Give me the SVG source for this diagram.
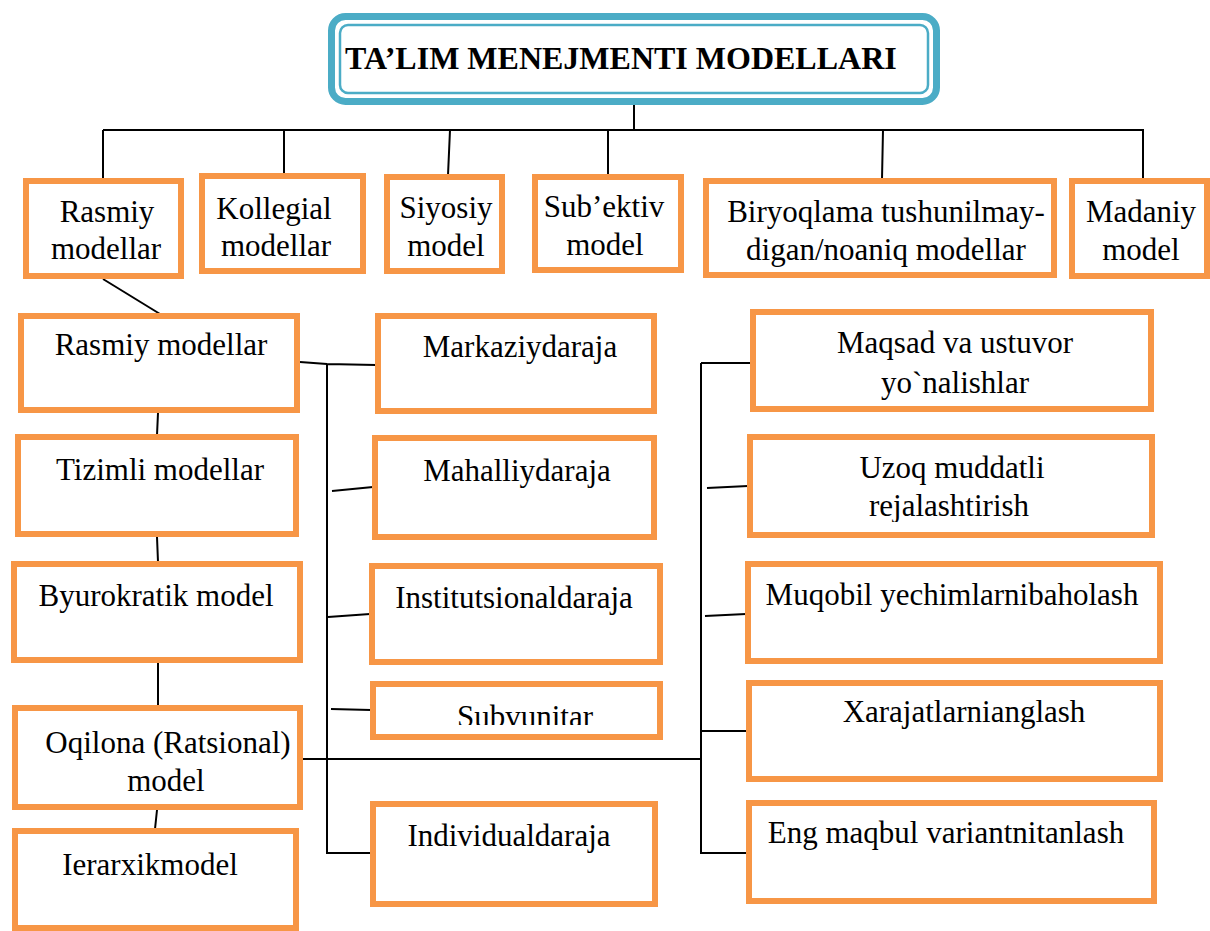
<svg xmlns="http://www.w3.org/2000/svg" width="1210" height="931" viewBox="0 0 1210 931">
<style>
.box{fill:#fff;stroke:#F79646;stroke-width:6}
.t{font-family:"Liberation Serif","Times New Roman",serif;font-size:31px;fill:#000;text-anchor:middle}
.c{fill:none;stroke:#000;stroke-width:2}
</style>
<defs>
<clipPath id="clipSub"><rect x="373" y="684" width="287" height="41"/></clipPath>
<clipPath id="clipR2"><rect x="750" y="437" width="402" height="85"/></clipPath>
</defs>
<rect width="1210" height="931" fill="#fff"/>
<g id="connectors">
<path class="c" d="M634,104 V130 M103,130 H1144 M103,130 V179 M284,130 V174 M450,130 L448,175 M608,130 V175 M883,130 L882,179 M1143,130 V179"/>
<path class="c" d="M103,279 L160,314"/>
<path class="c" d="M158,413 L157,435 M157,537 L158,562 M158,663 V706 M157,810 L155,829"/>
<path class="c" d="M300,362 L327,364 L376,365 M327,364 V853 H371 M332,491 L373,487 M328,617 L370,614 M331,709 L371,710"/>
<path class="c" d="M303,759 H701 M701,363 H751 M701,363 V853 H747 M707,488 L748,486 M705,616 L746,614 M701,731 H747"/>
</g>
<g id="title">
<rect x="331.5" y="16.5" width="605" height="85" rx="14" fill="#fff" stroke="#4BACC6" stroke-width="7"/>
<rect x="340" y="25" width="588" height="68" rx="8" fill="none" stroke="#4BACC6" stroke-width="2.5"/>
<text x="345" y="69" font-family="'Liberation Serif','Times New Roman',serif" font-size="32" font-weight="bold" fill="#000">TA’LIM MENEJMENTI MODELLARI</text>
</g>
<g id="t1"><rect class="box" x="26" y="181" width="155" height="95"/><text class="t" x="107" y="222">Rasmiy</text><text class="t" x="106" y="259">modellar</text></g>
<g id="t2"><rect class="box" x="202" y="176" width="161" height="95"/><text class="t" x="274" y="219">Kollegial</text><text class="t" x="276" y="256">modellar</text></g>
<g id="t3"><rect class="box" x="387" y="177" width="115" height="94"/><text class="t" x="446" y="218">Siyosiy</text><text class="t" x="446" y="256">model</text></g>
<g id="t4"><rect class="box" x="535" y="177" width="146" height="93"/><text class="t" x="604" y="217">Sub’ektiv</text><text class="t" x="605" y="255">model</text></g>
<g id="t5"><rect class="box" x="706" y="181" width="348" height="94"/><text class="t" x="886" y="222">Biryoqlama tushunilmay-</text><text class="t" x="886" y="260">digan/noaniq modellar</text></g>
<g id="t6"><rect class="box" x="1072" y="181" width="135" height="95"/><text class="t" x="1141" y="222">Madaniy</text><text class="t" x="1141" y="260">model</text></g>
<g id="l1"><rect class="box" x="21" y="316" width="276" height="94"/><text class="t" x="161" y="355">Rasmiy modellar</text></g>
<g id="l2"><rect class="box" x="18" y="437" width="278" height="97"/><text class="t" x="160" y="480">Tizimli modellar</text></g>
<g id="l3"><rect class="box" x="14" y="564" width="286" height="96"/><text class="t" x="156" y="606">Byurokratik model</text></g>
<g id="l4"><rect class="box" x="15" y="708" width="285" height="99"/><text class="t" x="168" y="753">Oqilona (Ratsional)</text><text class="t" x="166" y="791">model</text></g>
<g id="l5"><rect class="box" x="15" y="831" width="281" height="97"/><text class="t" x="150" y="875">Ierarxikmodel</text></g>
<g id="m1"><rect class="box" x="378" y="316" width="276" height="95"/><text class="t" x="520" y="357">Markaziydaraja</text></g>
<g id="m2"><rect class="box" x="375" y="438" width="279" height="99"/><text class="t" x="517" y="481">Mahalliydaraja</text></g>
<g id="m3"><rect class="box" x="372" y="566" width="288" height="96"/><text class="t" x="514" y="608">Institutsionaldaraja</text></g>
<g id="m4"><rect class="box" x="373" y="684" width="287" height="53"/><text class="t" x="525" y="727" clip-path="url(#clipSub)">Subvunitar</text></g>
<g id="m5"><rect class="box" x="373" y="804" width="282" height="100"/><text class="t" x="509" y="846">Individualdaraja</text></g>
<g id="r1"><rect class="box" x="753" y="312" width="398" height="97"/><text class="t" x="955" y="353">Maqsad va ustuvor</text><text class="t" x="955" y="393">yo`nalishlar</text></g>
<g id="r2"><rect class="box" x="750" y="437" width="402" height="98"/><text class="t" x="952" y="478">Uzoq muddatli</text><text class="t" x="949" y="516" clip-path="url(#clipR2)">rejalashtirish</text></g>
<g id="r3"><rect class="box" x="748" y="564" width="412" height="97"/><text class="t" x="952" y="605">Muqobil yechimlarnibaholash</text></g>
<g id="r4"><rect class="box" x="749" y="683" width="411" height="96"/><text class="t" x="964" y="722">Xarajatlarnianglash</text></g>
<g id="r5"><rect class="box" x="749" y="803" width="405" height="98"/><text class="t" x="946" y="843">Eng maqbul variantnitanlash</text></g>
</svg>
